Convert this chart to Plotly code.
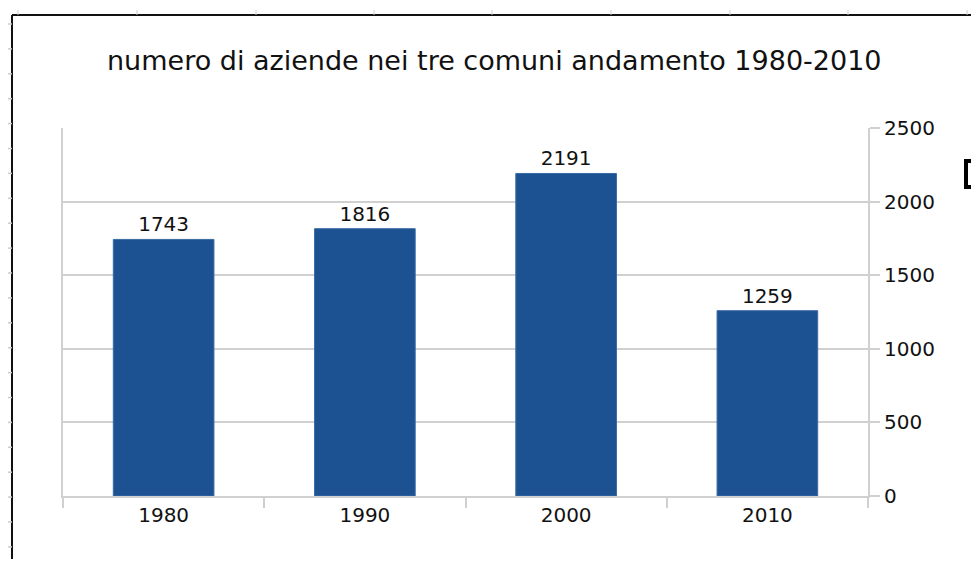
import plotly.graph_objects as go

years = ["1980", "1990", "2000", "2010"]
aziende = [1743, 1816, 2191, 1259]
y_ticks = [0, 500, 1000, 1500, 2000, 2500]
title_text = "numero di aziende nei tre comuni andamento 1980-2010"

# page body has an 8px margin; work in reference pixel coords and offset
OFF = 8
W, H = 979 - OFF, 567 - 2 * OFF
L, R, T, B = 63, 868, 128, 496

def px(x):
    return (x - L) / (R - L)

def py(y):
    return (B - y) / (B - T)

FONT = "DejaVu Sans, Liberation Sans, Arial"

fig = go.Figure()
fig.add_trace(go.Bar(
    x=years, y=aziende,
    marker=dict(color="#1c5292", line=dict(color="#3a6aa4", width=1)),
    text=aziende, textposition="outside",
    textfont=dict(size=20, color="#111111", family=FONT),
    cliponaxis=False,
))

shapes = []
frame = dict(type="line", xref="paper", yref="paper", line=dict(color="#111111", width=2))
shapes.append(dict(frame, x0=px(12), x1=px(977), y0=py(15), y1=py(15)))
shapes.append(dict(frame, x0=px(12), x1=px(12), y0=py(15), y1=py(580)))
shapes.append(dict(frame, x0=px(977), x1=px(977), y0=py(15), y1=py(580)))
for xt in [18, 137, 256, 374, 492, 611, 730, 848, 967]:
    shapes.append(dict(type="line", xref="paper", yref="paper", x0=px(xt), x1=px(xt),
                       y0=py(10), y1=py(15), line=dict(color="#cccccc", width=1)))
for i in range(23):
    yt = 24 + i * 24.9
    shapes.append(dict(type="line", xref="paper", yref="paper", x0=px(8), x1=px(12),
                       y0=py(yt), y1=py(yt), line=dict(color="#cccccc", width=1.5)))
shapes.append(dict(type="rect", xref="paper", yref="paper", x0=px(966), x1=px(976),
                   y0=py(161), y1=py(187), line=dict(color="#000000", width=4),
                   fillcolor="rgba(0,0,0,0)"))

fig.update_layout(
    width=W, height=H,
    margin=dict(l=L - OFF, r=979 - R, t=T - OFF, b=H + OFF - B),
    paper_bgcolor="white", plot_bgcolor="white",
    font=dict(family=FONT, size=20, color="#111111"),
    bargap=0.5,
    showlegend=False,
    shapes=shapes,
    annotations=[dict(text=title_text, xref="paper", yref="paper",
                      x=px(494), y=py(61), xanchor="center", yanchor="middle",
                      showarrow=False, font=dict(size=27, color="#111111", family=FONT))],
    xaxis=dict(showline=True, linecolor="#d0d0d0", linewidth=2,
               ticks="outside", tickson="boundaries", ticklen=10,
               tickcolor="#d0d0d0", tickwidth=2, showgrid=False,
               tickfont=dict(size=20)),
    yaxis=dict(side="right", range=[0, 2500], tickvals=y_ticks,
               showline=True, mirror=True, linecolor="#d0d0d0", linewidth=2,
               ticks="outside", ticklen=10, tickcolor="#d0d0d0", tickwidth=2,
               gridcolor="#d0d0d0", gridwidth=2, zeroline=False,
               tickfont=dict(size=20)),
)

fig.write_html("out.html")
